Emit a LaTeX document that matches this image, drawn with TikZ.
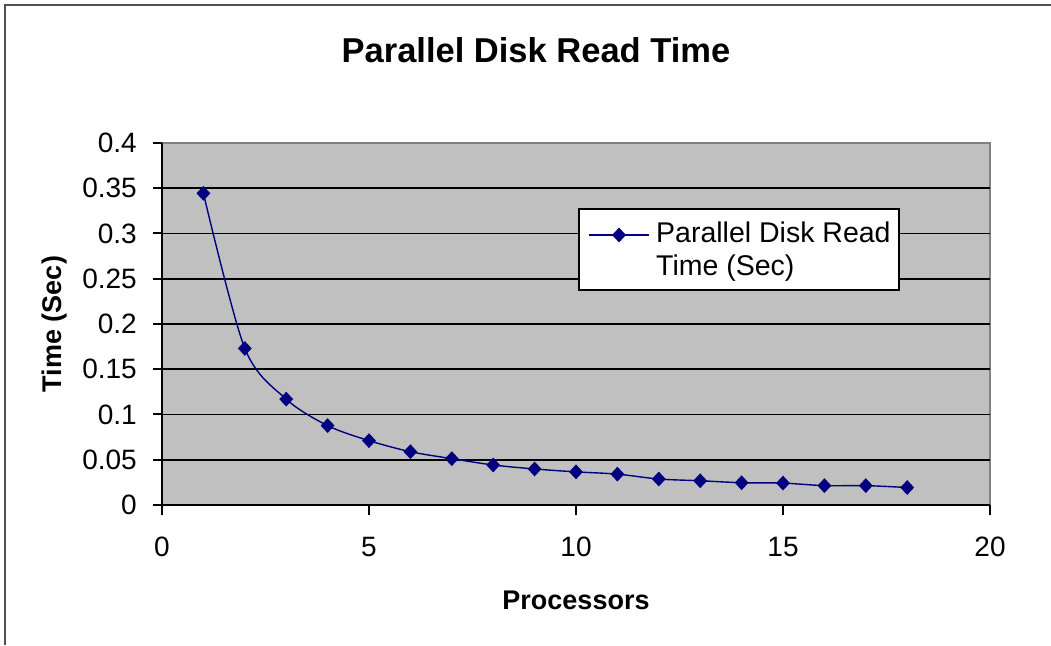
\documentclass[tikz,border=0pt]{standalone}
\usepackage{fontspec}
\setmainfont{Liberation Sans}
\usetikzlibrary{shapes.geometric}
\definecolor{plotgray}{HTML}{C0C0C0}
\definecolor{bordergray}{HTML}{808080}
\definecolor{framegray}{HTML}{505050}
\definecolor{seriesblue}{HTML}{000080}
\tikzset{
  ticklabel/.style={inner sep=0pt, font=\fontsize{28}{33}\selectfont},
  axistitle/.style={inner sep=0pt, font=\fontsize{27}{32}\selectfont\bfseries},
  gridline/.style={black, line width=1.6pt},
  axisline/.style={black, line width=2pt},
  series/.style={seriesblue, line width=1.4pt},
  marker/.style={diamond, fill=seriesblue, draw=none, inner sep=0pt,
                 minimum width=14pt, minimum height=15pt},
}
\begin{document}
\begin{tikzpicture}[x=1pt, y=1pt]
  \useasboundingbox (0,0) rectangle (1051,645);
  % chart frame (top and left edges)
  \draw[framegray, line width=2pt] (5,0) -- (5,640) -- (1051,640);
  % chart title
  \node[inner sep=0pt, font=\fontsize{34.5}{40}\selectfont\bfseries] (title) at (536,595) {Parallel Disk Read Time};

  \begin{scope}[shift={(162,140)}, x=41.4pt, y=905pt]
    % plot area
    \fill[plotgray] (0,0) rectangle (20,0.4);
    \draw[bordergray, line width=1.5pt] (0,0.4) -- (20,0.4) -- (20,0);
    \foreach \v in {0.05,0.1,0.15,0.2,0.25,0.3,0.35}
      \draw[gridline] (0,\v) -- (20,\v);
    % axes and ticks
    \draw[axisline] (0,0.4) -- (0,0) -- (20,0);
    \foreach \v/\t in {0/0,0.05/0.05,0.1/0.1,0.15/0.15,0.2/0.2,0.25/0.25,0.3/0.3,0.35/0.35,0.4/0.4} {
      \draw[axisline] (0,\v) -- ++(-9pt,0);
      \node[ticklabel, anchor=east] (ylab\t) at ([xshift=-25pt]0,\v) {\t};
    }
    \foreach \v in {0,5,10,15,20} {
      \draw[axisline] (\v,0) -- ++(0,-10pt);
      \node[ticklabel] (xlab\v) at ([yshift=-42pt]\v,0) {\v};
    }
    % axis titles
    \node[axistitle] (xtitle) at ([yshift=-95pt]10,0) {Processors};
    \node[axistitle, rotate=90] (ytitle) at ([xshift=-107pt]0,0.2) {Time (Sec)};

    % data series
    \coordinate (d1) at (1,0.3444);
    \coordinate (d2) at (2,0.1730);
    \coordinate (d3) at (3,0.1170);
    \coordinate (d4) at (4,0.0877);
    \coordinate (d5) at (5,0.0711);
    \coordinate (d6) at (6,0.0589);
    \coordinate (d7) at (7,0.0512);
    \coordinate (d8) at (8,0.0442);
    \coordinate (d9) at (9,0.0398);
    \coordinate (d10) at (10,0.0366);
    \coordinate (d11) at (11,0.0341);
    \coordinate (d12) at (12,0.0287);
    \coordinate (d13) at (13,0.0268);
    \coordinate (d14) at (14,0.0246);
    \coordinate (d15) at (15,0.0242);
    \coordinate (d16) at (16,0.0214);
    \coordinate (d17) at (17,0.0214);
    \coordinate (d18) at (18,0.0193);
    \draw[series] plot[smooth, tension=0.5] coordinates {
      (d1) (d2) (d3) (d4) (d5) (d6) (d7) (d8) (d9)
      (d10) (d11) (d12) (d13) (d14) (d15) (d16) (d17) (d18)};
    \foreach \i in {1,...,18}
      \node[marker] (m\i) at (d\i) {};
  \end{scope}

  % legend
  \node[draw=black, line width=1.3pt, fill=white, minimum width=320pt, minimum height=81pt, inner sep=0pt] (legend) at (739,395.5) {};
  \coordinate (ls) at (589,410);
  \coordinate (le) at (649,410);
  \draw[series] (ls) -- (le);
  \node[marker] (lm) at (619,410) {};
  \node[inner sep=0pt, anchor=west, align=left, font=\fontsize{28.5}{33}\selectfont] (ltext) at (656,393.5) {Parallel Disk Read\\Time (Sec)};
\end{tikzpicture}
\end{document}
